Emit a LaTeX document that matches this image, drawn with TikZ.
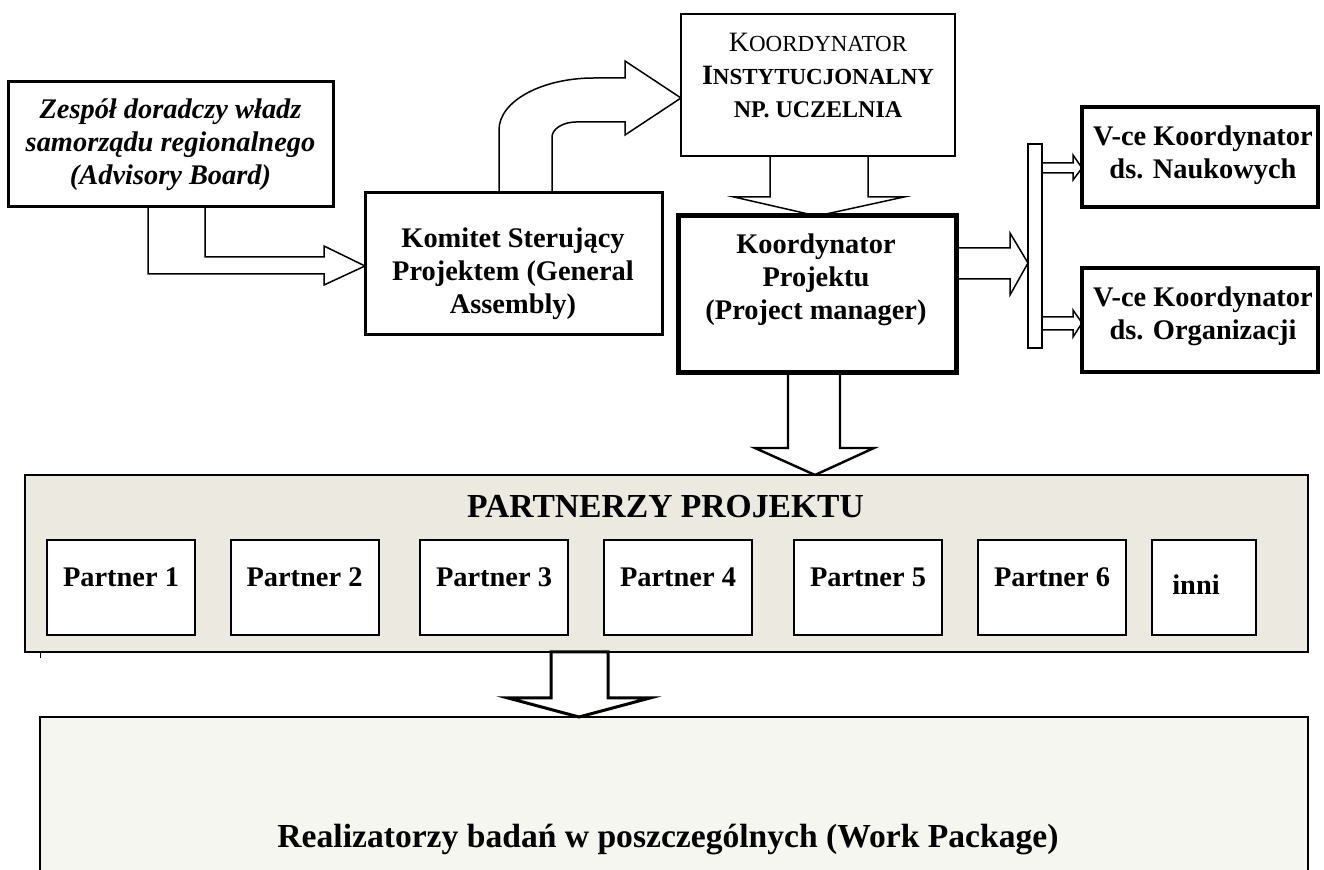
\documentclass[tikz,border=0pt]{standalone}
\usepackage{fontspec}
\setmainfont{Liberation Serif}
\usetikzlibrary{calc}
\pgfdeclarelayer{bg}
\pgfsetlayers{bg,main}
\definecolor{partfill}{RGB}{236,234,224}
\definecolor{wpfill}{RGB}{246,246,241}
\newcommand{\bigsc}{\fontsize{14}{16.5}\selectfont}
\newcommand{\smsc}{\fontsize{11.5}{16.5}\selectfont}
\begin{document}
\begin{tikzpicture}[x=0.5pt,y=-0.5pt,
  boxnode/.style={draw, fill=white, inner sep=0pt, outer sep=0pt, anchor=center},
  txt/.style={inner sep=0pt, align=center, font=\bfseries\fontsize{14.2}{16.5}\selectfont},
  bigtxt/.style={inner sep=0pt, align=center, font=\bfseries\fontsize{16.8}{19}\selectfont},
  barrow/.style={draw, fill=white, line width=0.75pt, line join=miter, miter limit=10}]
\useasboundingbox (0,0) rectangle (1324,870);
\clip (0,0) rectangle (1324,870);

% ---------- boxes ----------
\node[boxnode, line width=1.5pt, minimum width=162.5pt, minimum height=62.5pt] (adv) at (170.5,144.5) {};
\node[boxnode, line width=1.5pt, minimum width=148.5pt, minimum height=71pt] (kom) at (513.5,264) {};
\node[boxnode, line width=1.25pt, minimum width=137pt, minimum height=71pt] (inst) at (818,85) {};
\node[boxnode, line width=2.5pt, minimum width=139pt, minimum height=78.5pt] (kp) at (817,294.5) {};
\node[boxnode, line width=2pt, minimum width=118pt, minimum height=50pt] (vc1) at (1200,157) {};
\node[boxnode, line width=2pt, minimum width=118pt, minimum height=52pt] (vc2) at (1200,320) {};
\node[boxnode, line width=0.8pt, minimum width=7pt, minimum height=102pt] (bar) at (1035,246) {};
\node[boxnode, line width=1pt, fill=partfill, minimum width=641.5pt, minimum height=88.5pt] (part) at (666.5,563.5) {};
\node[boxnode, line width=1pt, fill=wpfill, minimum width=634pt, minimum height=91.5pt] (wp) at (674,808.5) {};

\foreach \nm/\cx in {p1/121, p2/304.5, p3/494, p4/678, p5/868, p6/1052}{
  \node[boxnode, line width=1pt, minimum width=74pt, minimum height=47.5pt] (\nm) at (\cx,587.5) {};
}
\node[boxnode, line width=1pt, minimum width=52pt, minimum height=47.5pt] (inni) at (1204,587.5) {};

% small tick under the partner box
\draw[line width=0.5pt] (40,0 |- part.south) -- (40,658);

% ---------- texts ----------
\node[txt, font=\bfseries\itshape\fontsize{14.2}{16.5}\selectfont] (advt) at (170.5,145) {Zespół doradczy władz\\samorządu regionalnego\\(Advisory Board)};
\node[txt] (komt) at (513,274) {Komitet Sterujący\\Projektem (General\\Assembly)};
\node[txt] (instt) at (818,76) {{\mdseries\bigsc K\smsc OORDYNATOR}\\{\bigsc I\smsc NSTYTUCJONALNY}\\{\fontsize{12}{16.5}\selectfont NP. UCZELNIA}};
\node[txt] (kpt) at (816,280) {Koordynator\\Projektu\\(Project manager)};
\node[txt] (vc1t) at (1203,155.5) {V-ce Koordynator\\ds. Naukowych};
\node[txt] (vc2t) at (1203,316) {V-ce Koordynator\\ds. Organizacji};
\node[bigtxt] (partt) at (665.5,507) {PARTNERZY PROJEKTU};
\foreach \nm/\cx/\k in {p1/121/1, p2/304.5/2, p3/494/3, p4/678/4, p5/868/5, p6/1052/6}{
  \node[txt] (\nm t) at (\cx,577) {Partner \k};
}
\node[txt] (innit) at (1196,585) {inni};
\node[bigtxt] (wpt) at (668,840) {Realizatorzy badań w poszczególnych (Work Package)};

% ---------- block arrows (behind boxes) ----------
\begin{pgfonlayer}{bg}
% advisory -> komitet
\draw[barrow] (148,0 |- adv.south) -- (148,274) -- (324,274) -- (324,285) -- (kom.west |- 0,266)
  -- (324,246) -- (324,257) -- (205,257) -- (205,0 |- adv.south);
% komitet -> koordynator instytucjonalny
\draw[barrow] (499,0 |- kom.north) -- (499,130) .. controls (499,101) and (542,78) .. (594,78)
  -- (625,78) -- (625,61) -- (inst.west |- 0,98) -- (625,135) -- (625,122) -- (576,122)
  .. controls (563,122) and (552,129) .. (552,137) -- (552,0 |- kom.north);
% koordynator instytucjonalny -> koordynator projektu
\draw[barrow] (770,0 |- inst.south) -- (770,197) -- (734,197) -- (kp.north) -- (904,197)
  -- (868,197) -- (868,0 |- inst.south);
% koordynator projektu -> bar
\draw[barrow] (kp.east |- 0,248) -- (1010,248) -- (1010,233) -- (bar.west |- 0,263) -- (1010,295)
  -- (1010,279) -- (kp.east |- 0,279);
% bar -> vice coordinators
\draw[barrow] (bar.east |- 0,163) -- (1073,163) -- (1073,155) -- (vc1.west |- 0,168) -- (1073,180)
  -- (1073,173) -- (bar.east |- 0,173);
\draw[barrow] (bar.east |- 0,317) -- (1073,317) -- (1073,310) -- (vc2.west |- 0,323) -- (1073,337)
  -- (1073,330) -- (bar.east |- 0,330);
% koordynator projektu -> partnerzy
\draw[barrow, line width=1.2pt] (788,0 |- kp.south) -- (788,448) -- (755,448) -- (815,0 |- part.north)
  -- (874,448) -- (840,448) -- (840,0 |- kp.south);
\end{pgfonlayer}
% partnerzy -> work package (thick, drawn on top at its start)
\draw[barrow, line width=1.5pt] (551,0 |- part.south) -- (551,698) -- (508,698) -- (579,0 |- wp.north)
  -- (650,698) -- (608,698) -- (608,0 |- part.south) -- cycle;
\end{tikzpicture}
\end{document}
